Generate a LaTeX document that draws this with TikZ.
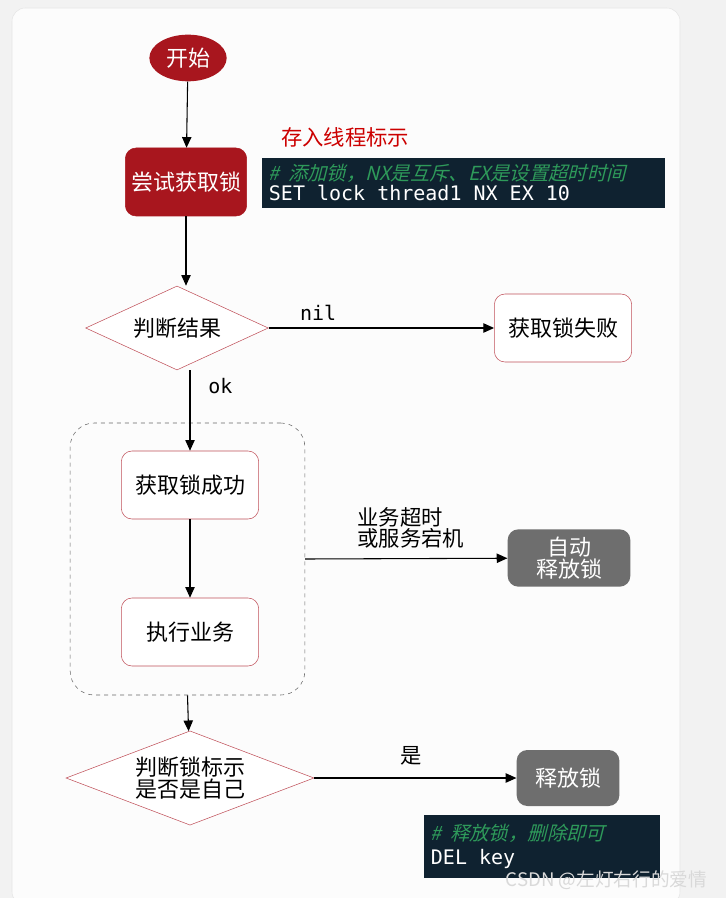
\documentclass[tikz,border=0pt]{standalone}
\usepackage{fontspec}
\setmainfont{Noto Sans CJK SC}
\newfontfamily\cjkslant[FakeSlant=0.25]{Noto Sans CJK SC}
\newfontfamily\codefont{DejaVu Sans Mono}
\usetikzlibrary{shapes.geometric,arrows.meta}
\definecolor{darkred}{HTML}{A8161E}
\definecolor{boxline}{HTML}{C0505A}
\definecolor{codebg}{HTML}{0F2230}
\definecolor{codegreen}{HTML}{2E9A5A}
\definecolor{greybox}{HTML}{6E6E6E}
\tikzset{
  task/.style={draw=boxline, fill=white, rounded corners=8pt, minimum width=103pt, minimum height=51pt, font=\fontsize{16.5}{19}\selectfont},
  grey/.style={fill=greybox, text=white, rounded corners=8pt, font=\fontsize{16.5}{19}\selectfont, align=center},
  check/.style={diamond, aspect=2.15, draw=boxline, fill=white, inner sep=0pt, font=\fontsize{16.5}{19}\selectfont, align=center},
  code/.style={fill=codebg, anchor=north west, align=left, inner xsep=5pt, inner ysep=3pt},
  flow/.style={-{Triangle[length=8pt,width=7pt]}, thick}
}
\begin{document}
\begin{tikzpicture}[x=0.75pt, y=-0.75pt]
  \useasboundingbox (0,0) rectangle (726,898);
  \fill[black!5] (0,0) rectangle (726,898);
  \fill[white!60!black!3, draw=black!10, rounded corners=10pt] (12,8) rectangle (680,905);
  % nodes
  \node[ellipse, fill=darkred, text=white, minimum width=58pt, minimum height=35pt, font=\fontsize{16.5}{19}\selectfont] (start) at (188,58) {开始};
  \node[task, fill=darkred, draw=darkred, text=white, minimum width=91pt] (try) at (186,182) {尝试获取锁};
  \node[text=red!80!black, font=\fontsize{16}{19}\selectfont] (store) at (345,137) {存入线程标示};
  \node[code, minimum height=37pt] (setcmd) at (262,158) {\makebox[292pt][l]{\color{codegreen}\cjkslant\fontsize{14.5}{17}\selectfont \#\ \ 添加锁，NX是互斥、EX是设置超时时间}\\[1pt] \makebox[292pt][l]{\color{white}\codefont\fontsize{15}{17}\selectfont SET lock thread1 NX EX 10}};
  \node[check, minimum width=137pt, minimum height=63pt] (result) at (177,328) {判断结果};
  \node[task] (fail) at (563,328) {获取锁失败};
  \node[task] (ok) at (190,485) {获取锁成功};
  \node[task] (work) at (190,632) {执行业务};
  \node[draw=black!60, dashed, rounded corners=18pt, minimum width=176pt, minimum height=204pt] (group) at (187.5,559) {};
  \node[grey, minimum width=92pt, minimum height=43pt] (auto) at (569,558) {自动\\[-3pt]释放锁};
  \node[check, minimum width=186pt, minimum height=63pt] (mine) at (190,778) {判断锁标示\\[-2pt]是否是自己};
  \node[grey, minimum width=77pt, minimum height=42pt] (release) at (568,778) {释放锁};
  \node[code, minimum height=47pt] (delcmd) at (424,815) {\makebox[167pt][l]{\color{codegreen}\cjkslant\fontsize{14.5}{17}\selectfont \#\ \ 释放锁，删除即可}\\[4pt] \makebox[167pt][l]{\color{white}\codefont\fontsize{15}{17}\selectfont DEL key}};
  \node[anchor=east, text=white!85!black, font=\fontsize{14}{16}\selectfont] (mark) at (712,880) {CSDN @左灯右行的爱情};
  % connectors
  \draw[flow] (start) -- (try);
  \draw[flow] (try) -- (result.north -| try);
  \draw[flow] (result) -- node[pos=0.22, above=2pt, font=\codefont\fontsize{15}{17}\selectfont] {nil} (fail);
  \draw[flow] (result.south -| ok) -- node[pos=0.2, right=10pt, font=\codefont\fontsize{15}{17}\selectfont] {ok} (ok);
  \draw[flow] (ok) -- (work);
  \draw[flow] (group.east) -- node[pos=0.3, above=4pt, anchor=south west, align=left, font=\fontsize{16}{19}\selectfont, xshift=-10pt] {业务超时\\[-3pt]或服务宕机} (auto);
  \draw[flow] (group.south) -- (mine);
  \draw[flow] (mine) -- node[pos=0.48, above=6pt, font=\fontsize{16}{19}\selectfont] {是} (release);
\end{tikzpicture}
\end{document}
